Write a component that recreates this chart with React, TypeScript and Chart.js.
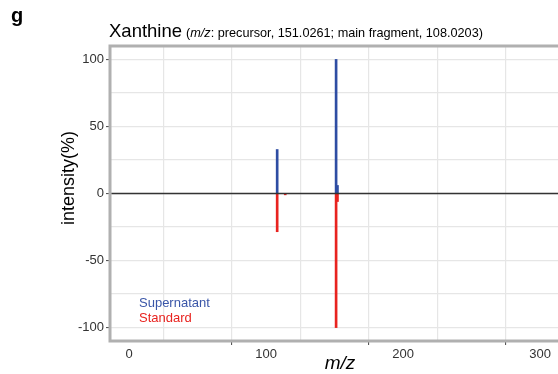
import React, { useEffect, useRef } from 'react';
import { Chart, registerables } from 'chart.js';
Chart.register(...registerables);

const supernatantMz = [108.02, 151.03, 152.03];
const supernatantInt = [32.8, 100, 6];
const standardMz = [108.02, 113.9, 151.03, 152.03];
const standardInt = [-28.5, -1, -100, -6];
const xTickValues = [0, 50, 100, 150, 200, 250, 300];
const yTickValues = [-100, -75, -50, -25, 0, 25, 50, 75, 100];
const legendLabels = ['Supernatant', 'Standard'];
const titleMain = 'Xanthine';
const titleSubA = '(';
const titleSubItalic = 'm/z';
const titleSubB = ': precursor, 151.0261; main fragment, 108.0203)';
const panelLetter = 'g';
const xTitle = 'm/z';
const yTitle = 'intensity(%)';

const BLUE = '#2E4DA3';
const RED = '#E8231F';
const FONT = '"Liberation Sans", Arial, Helvetica, sans-serif';

const overlay = {
  id: 'overlay',
  beforeDatasetsDraw(chart: any) {
    const { ctx, chartArea } = chart;
    const { left, right, top, bottom } = chartArea;
    ctx.save();
    ctx.strokeStyle = '#B0B0B0';
    ctx.lineWidth = 3;
    ctx.strokeRect(left, top, right - left + 20, bottom - top);
    ctx.restore();
  },
  afterDatasetsDraw(chart: any) {
    const { ctx, chartArea, scales } = chart;
    const { left, right } = chartArea;
    const y0 = scales.y.getPixelForValue(0);
    ctx.save();
    ctx.strokeStyle = '#333333';
    ctx.lineWidth = 1.4;
    ctx.beginPath();
    ctx.moveTo(left + 1.5, y0);
    ctx.lineTo(right, y0);
    ctx.stroke();

    ctx.font = `13px ${FONT}`;
    ctx.textBaseline = 'middle';
    ctx.textAlign = 'left';
    ctx.fillStyle = '#3A56A8';
    ctx.fillText(legendLabels[0], left + 29, 303);
    ctx.fillStyle = RED;
    ctx.fillText(legendLabels[1], left + 29, 318.5);

    ctx.fillStyle = '#000';
    ctx.textBaseline = 'alphabetic';
    ctx.font = `bold 20px ${FONT}`;
    ctx.fillText(panelLetter, 11, 22);

    let x = left - 1;
    const by = 36.5;
    ctx.font = `18.5px ${FONT}`;
    ctx.fillText(titleMain, x, by);
    x += ctx.measureText(titleMain).width + 4;
    ctx.font = `12.7px ${FONT}`;
    ctx.fillText(titleSubA, x, by);
    x += ctx.measureText(titleSubA).width;
    ctx.font = `italic 12.7px ${FONT}`;
    ctx.fillText(titleSubItalic, x, by);
    x += ctx.measureText(titleSubItalic).width;
    ctx.font = `12.7px ${FONT}`;
    ctx.fillText(titleSubB, x, by);

    ctx.font = `italic 19px ${FONT}`;
    ctx.textAlign = 'center';
    ctx.fillText(xTitle, 340, 369);

    ctx.translate(74, 178);
    ctx.rotate(-Math.PI / 2);
    ctx.font = `18px ${FONT}`;
    ctx.textAlign = 'center';
    ctx.textBaseline = 'alphabetic';
    ctx.fillText(yTitle, 0, 0);
    ctx.restore();
  },
};

export default function App() {
  const ref = useRef<HTMLCanvasElement>(null);
  useEffect(() => {
    if (!ref.current) return;
    const chart = new Chart(ref.current, {
      type: 'bar',
      data: {
        datasets: [
          {
            label: legendLabels[0],
            data: supernatantMz.map((m, i) => ({ x: m, y: supernatantInt[i] })),
            backgroundColor: BLUE,
            borderWidth: 0,
            barThickness: 2,
            grouped: false,
          } as any,
          {
            label: legendLabels[1],
            data: standardMz.map((m, i) => ({ x: m, y: standardInt[i] })),
            backgroundColor: RED,
            borderWidth: 0,
            barThickness: 2,
            grouped: false,
          } as any,
        ],
      },
      options: {
        responsive: false,
        animation: false,
        devicePixelRatio: 1,
        layout: { padding: { left: 0, right: 0, top: 46, bottom: 0 } },
        plugins: { legend: { display: false }, title: { display: false }, tooltip: { enabled: false } },
        scales: {
          x: {
            type: 'linear',
            offset: false,
            min: -14,
            max: 313,
            afterBuildTicks: (s: any) => {
              s.ticks = xTickValues.map((v) => ({ value: v }));
            },
            afterFit: (s: any) => {
              s.height = 33;
            },
            border: { display: false },
            grid: {
              color: '#E6E6E6',
              lineWidth: 1.2,
              tickLength: 4,
              tickColor: (c: any) => (c.tick && c.tick.value % 100 === 0 ? '#444' : 'rgba(0,0,0,0)'),
              tickWidth: 1,
            },
            ticks: {
              padding: 2,
              color: '#333333',
              font: { size: 13, family: FONT },
              maxRotation: 0,
              autoSkip: false,
              callback: (v: any) => (Number(v) % 100 === 0 ? String(v) : ''),
            },
          },
          y: {
            type: 'linear',
            min: -110,
            max: 110,
            afterBuildTicks: (s: any) => {
              s.ticks = yTickValues.map((v) => ({ value: v }));
            },
            afterFit: (s: any) => {
              s.width = 110;
            },
            border: { display: false },
            grid: {
              color: '#E6E6E6',
              lineWidth: 1.2,
              tickLength: 4,
              tickColor: (c: any) => (c.tick && c.tick.value % 50 === 0 ? '#444' : 'rgba(0,0,0,0)'),
              tickWidth: 1,
            },
            ticks: {
              padding: 2,
              color: '#333333',
              font: { size: 13, family: FONT },
              autoSkip: false,
              callback: (v: any) => (Number(v) % 50 === 0 ? String(v) : ''),
            },
          },
        },
      } as any,
      plugins: [overlay],
    });
    return () => chart.destroy();
  }, []);
  return (
    <div style={{ position: 'fixed', left: 0, top: 0, width: 558, height: 374, background: '#fff' }}>
      <canvas ref={ref} width={558} height={374} style={{ width: 558, height: 374, display: 'block' }} />
    </div>
  );
}
